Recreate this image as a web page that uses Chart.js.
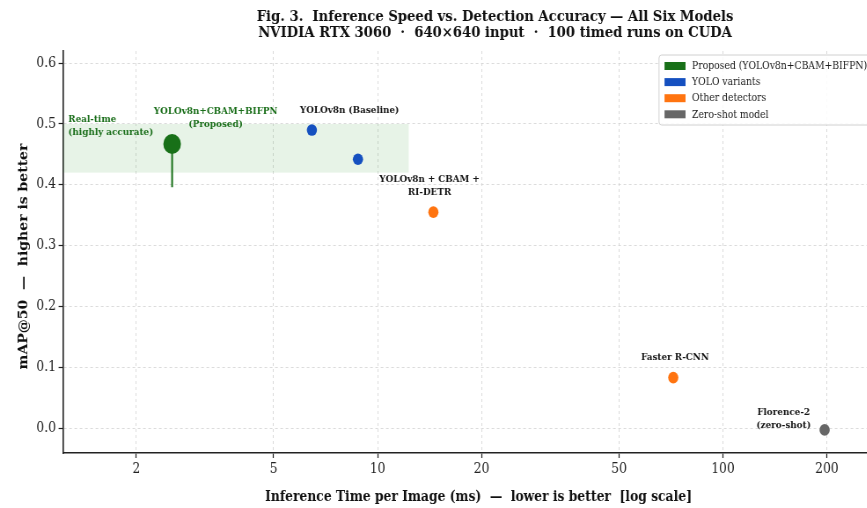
<!DOCTYPE html>
<html>
<head>
<meta charset="utf-8">
<script src="https://cdn.jsdelivr.net/npm/chart.js@4/dist/chart.umd.min.js"></script>
<style>
  html, body { margin: 0; padding: 0; background: #fff; overflow: hidden; }
  #wrap { width: 867px; height: 508px; overflow: hidden; position: relative; }
  #c { display: block; transform-origin: 0 0; }
</style>
</head>
<body>
<div id="wrap"><canvas id="c"></canvas></div>
<script>
// ---- data ----
const models = ['YOLOv8n+CBAM+BIFPN', 'YOLOv8n (Baseline)', 'YOLOv8n + CBAM', 'YOLOv8n + CBAM + RI-DETR', 'Faster R-CNN', 'Florence-2'];
const inferenceMs = [2.54, 6.45, 8.77, 14.5, 71.8, 197];
const map50 = [0.467, 0.490, 0.442, 0.355, 0.083, -0.003];
const map50ErrLow = [0.071, 0, 0, 0, 0, 0];
const groups = ['proposed', 'yolo', 'yolo', 'other', 'other', 'zeroshot'];
const pointLabels = [
  ['YOLOv8n+CBAM+BIFPN', '(Proposed)'],
  ['YOLOv8n (Baseline)'],
  null,
  ['YOLOv8n + CBAM +', 'RI-DETR'],
  ['Faster R-CNN'],
  ['Florence-2', '(zero-shot)']
];
const xTicks = [2, 5, 10, 20, 50, 100, 200];
const yTicks = [0.0, 0.1, 0.2, 0.3, 0.4, 0.5, 0.6];
const realtimeZone = { xMax: 12.3, yMin: 0.42, yMax: 0.50 };
const legendGroups = ['proposed', 'yolo', 'other', 'zeroshot'];
const legendLabels = ['Proposed (YOLOv8n+CBAM+BIFPN)', 'YOLO variants', 'Other detectors', 'Zero-shot model'];
const titleLines = ['Fig. 3.  Inference Speed vs. Detection Accuracy \u2014 All Six Models',
                    'NVIDIA RTX 3060  \u00b7  640\u00d7640 input  \u00b7  100 timed runs on CUDA'];
const xTitle = 'Inference Time per Image (ms)  \u2014  lower is better  [log scale]';
const yTitle = 'mAP@50  \u2014  higher is better';

// ---- styling ----
const groupColors = { proposed: '#187018', yolo: '#1550c0', other: '#ff7410', zeroshot: '#676767' };
const groupRadius = { proposed: 10, yolo: 5.8, other: 5.8, zeroshot: 5.8 };
const SERIF = '"DejaVu Serif", serif';
const SX = 0.88;                       // horizontal compression of the drawing
const W = Math.round(867 / SX), H = 508;
const px = v => v / SX;                // screen x -> canvas x

const canvas = document.getElementById('c');
canvas.width = W; canvas.height = H;
canvas.style.width = W + 'px'; canvas.style.height = H + 'px';
canvas.style.transform = 'scaleX(' + SX + ')';

// label offsets from each point, in screen pixels
const labelOffsets = [
  { dx: 43.6, dy: [-32.3, -19.3] },
  { dx: 37.7, dy: [-20] },
  null,
  { dx: -3.8, dy: [-32.3, -19.3] },
  { dx: 1.7, dy: [-20.6] },
  { dx: -41, dy: [-17.5, -4.5] }
];

const decorPlugin = {
  id: 'decor',
  beforeDatasetsDraw(chart) {
    const { ctx, chartArea: a, scales: { x, y } } = chart;
    ctx.save();
    // real-time band
    const x0 = a.left, x1 = x.getPixelForValue(realtimeZone.xMax);
    const y0 = y.getPixelForValue(realtimeZone.yMax), y1 = y.getPixelForValue(realtimeZone.yMin);
    ctx.fillStyle = 'rgba(40,150,40,0.11)';
    ctx.fillRect(x0, y0, x1 - x0, y1 - y0);
    // lower error stems
    inferenceMs.forEach((t, i) => {
      if (!map50ErrLow[i]) return;
      const cx = x.getPixelForValue(t);
      ctx.strokeStyle = groupColors[groups[i]];
      ctx.lineWidth = 2;
      ctx.beginPath();
      ctx.moveTo(cx, y.getPixelForValue(map50[i]));
      ctx.lineTo(cx, y.getPixelForValue(map50[i] - map50ErrLow[i]));
      ctx.stroke();
    });
    ctx.restore();
  },
  afterDatasetsDraw(chart) {
    const { ctx, chartArea: a, scales: { x, y } } = chart;
    ctx.save();
    ctx.textBaseline = 'middle';
    // point labels
    ctx.font = 'bold 10px ' + SERIF;
    ctx.textAlign = 'center';
    pointLabels.forEach((lines, i) => {
      if (!lines) return;
      const cx = x.getPixelForValue(inferenceMs[i]);
      const cy = y.getPixelForValue(map50[i]);
      const off = labelOffsets[i];
      ctx.fillStyle = groups[i] === 'proposed' ? '#1a6e1a' : '#151515';
      lines.forEach((s, k) => ctx.fillText(s, cx + px(off.dx), cy + off.dy[k]));
    });
    // band caption
    ctx.textAlign = 'left';
    ctx.fillStyle = '#1a6e1a';
    const by = y.getPixelForValue(realtimeZone.yMax);
    ctx.fillText('Real-time', a.left + px(5.3), by - 4.3);
    ctx.fillText('(highly accurate)', a.left + px(5.3), by + 8.4);

    // legend
    const lx = px(659), ly = 55, lw = W + 10 - lx, lh = 70;
    ctx.beginPath();
    ctx.roundRect(lx, ly, lw, lh, 3);
    ctx.fillStyle = 'rgba(255,255,255,0.85)';
    ctx.fill();
    ctx.strokeStyle = '#d0d0d0';
    ctx.lineWidth = 1;
    ctx.stroke();
    ctx.font = '10.5px ' + SERIF;
    legendGroups.forEach((g, k) => {
      const ry = 66 + k * 16.1;
      ctx.fillStyle = groupColors[g];
      ctx.fillRect(px(664.5), ry - 4, px(21), 8);
      ctx.fillStyle = '#1a1a1a';
      ctx.fillText(legendLabels[k], px(692), ry + 0.5);
    });
    ctx.restore();
  },
  afterDraw(chart) {
    const { ctx } = chart;
    ctx.save();
    ctx.fillStyle = '#111';
    ctx.textAlign = 'center';
    ctx.textBaseline = 'alphabetic';
    ctx.font = 'bold 15px ' + SERIF;
    ctx.fillText(titleLines[0], px(495), 20.5);
    ctx.fillText(titleLines[1], px(495), 36.5);
    ctx.font = 'bold 14px ' + SERIF;
    ctx.fillText(xTitle, px(478.5), 501);
    ctx.translate(px(27), 256.5);
    ctx.rotate(-Math.PI / 2);
    ctx.fillText(yTitle, 0, 0);
    ctx.restore();
  }
};

const axisCommon = {
  grid: { color: '#d2d2d2', lineWidth: 0.8, tickColor: '#222', tickLength: 5, tickWidth: 1.2, tickBorderDash: [] },
  border: { display: true, color: '#222', width: 1.6, dash: [3, 3] },
  ticks: { color: '#222', font: { family: SERIF, size: 14 }, autoSkip: false, maxRotation: 0 }
};

new Chart(canvas, {
  type: 'scatter',
  data: {
    datasets: [{
      data: inferenceMs.map((t, i) => ({ x: t, y: map50[i] })),
      pointBackgroundColor: groups.map(g => groupColors[g]),
      pointBorderColor: groups.map(g => groupColors[g]),
      pointBorderWidth: 0,
      pointRadius: groups.map(g => groupRadius[g]),
      pointHoverRadius: groups.map(g => groupRadius[g]),
      clip: false
    }]
  },
  options: {
    responsive: false,
    animation: false,
    devicePixelRatio: 1,
    layout: { autoPadding: false, padding: { top: 51, left: 0, right: 0, bottom: 0 } },
    plugins: { legend: { display: false }, title: { display: false }, tooltip: { enabled: false } },
    scales: {
      x: {
        type: 'logarithmic', min: 1.227, max: 261,
        grid: axisCommon.grid, border: axisCommon.border,
        ticks: Object.assign({}, axisCommon.ticks, { padding: 3, callback: v => String(v) }),
        afterBuildTicks: s => { s.ticks = xTicks.map(v => ({ value: v })); },
        afterFit: s => { s.height = 55; s.paddingLeft = 0; s.paddingRight = 0; }
      },
      y: {
        min: -0.041, max: 0.62,
        grid: axisCommon.grid, border: axisCommon.border,
        ticks: Object.assign({}, axisCommon.ticks, { padding: 3, callback: v => Number(v).toFixed(1) }),
        afterBuildTicks: s => { s.ticks = yTicks.map(v => ({ value: v })); },
        afterFit: s => { s.width = px(63); s.paddingTop = 0; s.paddingBottom = 0; }
      }
    }
  },
  plugins: [decorPlugin]
});
</script>
</body>
</html>
